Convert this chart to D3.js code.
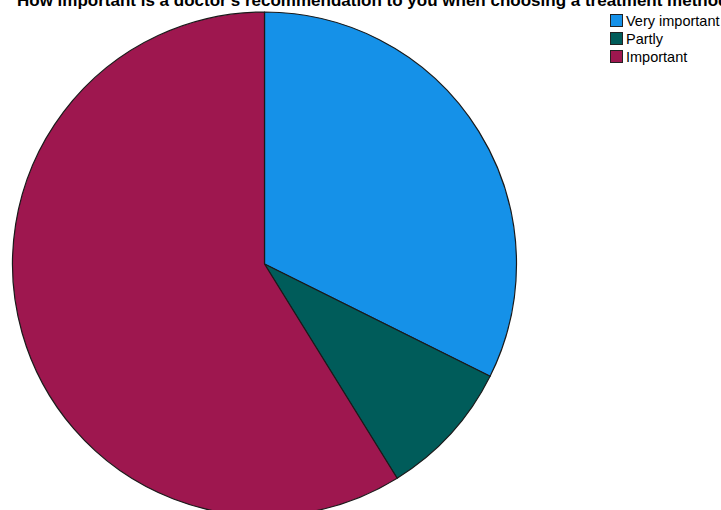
<!DOCTYPE html>
<html>
<head>
<meta charset="utf-8">
<script src="https://cdn.jsdelivr.net/npm/d3@7"></script>
<style>
  html, body { margin: 0; padding: 0; background: #fff; }
  svg { display: block; }
</style>
</head>
<body>
<svg id="chart" width="721" height="510"></svg>
<script>
// Survey answers: how important a doctor's recommendation is
const categories = ["Very important", "Partly", "Important"];
const counts = [11, 3, 20];
const colors = ["#1591e8", "#005c5a", "#9e174f"];
const title = "How important is a doctor's recommendation to you when choosing a treatment method?";

const svg = d3.select("#chart");
const cx = 264.5, cy = 264, radius = 252;

const pie = d3.pie().sort(null).value(d => d.value);
const arc = d3.arc().innerRadius(0).outerRadius(radius);
const data = categories.map((c, i) => ({ name: c, value: counts[i] }));
const color = d3.scaleOrdinal().domain(categories).range(colors);

svg.append("g")
  .attr("transform", `translate(${cx},${cy})`)
  .selectAll("path")
  .data(pie(data))
  .join("path")
  .attr("d", arc)
  .attr("fill", d => color(d.data.name))
  .attr("stroke", "#1a1a1a")
  .attr("stroke-width", 1.2)
  .attr("stroke-linejoin", "round");

svg.append("text")
  .attr("x", 17)
  .attr("y", 6)
  .attr("font-family", "'Liberation Sans Narrow', 'Liberation Sans', Arial, sans-serif")
  .attr("font-weight", "bold")
  .attr("font-size", 17)
  .attr("fill", "#000")
  .text(title);

const legend = svg.append("g").attr("transform", "translate(610,14)");
const rows = legend.selectAll("g")
  .data(categories)
  .join("g")
  .attr("transform", (d, i) => `translate(0,${i * 18})`);
rows.append("rect")
  .attr("x", 0.5).attr("y", 0.5)
  .attr("width", 12).attr("height", 12)
  .attr("fill", d => color(d))
  .attr("stroke", "#222")
  .attr("stroke-width", 1);
rows.append("text")
  .attr("x", 16)
  .attr("y", 12)
  .attr("font-family", "'Liberation Sans Narrow', 'Liberation Sans', Arial, sans-serif")
  .attr("font-size", 14.5)
  .attr("fill", "#000")
  .text(d => d);
</script>
</body>
</html>
